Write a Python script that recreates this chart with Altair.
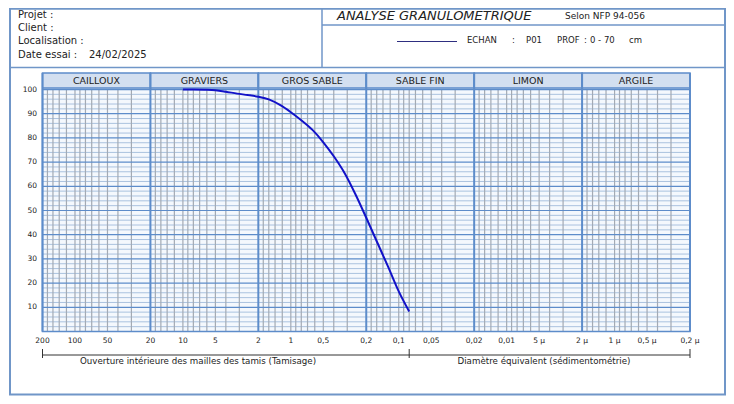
import altair as alt
import pandas as pd

# ---------------- data ----------------
sieve_mm = [10, 8, 6.3, 5, 4, 3.15, 2.5, 2, 1.6, 1.25, 1, 0.8, 0.63, 0.5, 0.4,
            0.315, 0.25, 0.2, 0.16, 0.125, 0.1, 0.08]
passing = [100, 100, 99.9, 99.7, 99.1, 98.3, 97.7, 97.0, 95.9, 93.5, 90.6, 87.3,
           83.3, 78.2, 72.4, 65.2, 56.4, 47.0, 37.3, 26.6, 16.6, 8.3]

classes = ["CAILLOUX", "GRAVIERS", "GROS SABLE", "SABLE FIN", "LIMON", "ARGILE"]
class_bounds = [200, 20, 2, 0.2, 0.02, 0.002, 0.0002]

tick_values = [200, 100, 50, 20, 10, 5, 2, 1, 0.5, 0.2, 0.1, 0.05, 0.02, 0.01,
               0.005, 0.002, 0.001, 0.0005, 0.0002]
tick_labels = ["200", "100", "50", "20", "10", "5", "2", "1", "0,5", "0,2", "0,1",
               "0,05", "0,02", "0,01", "5 µ", "2 µ", "1 µ", "0,5 µ", "0,2 µ"]
y_ticks = [10, 20, 30, 40, 50, 60, 70, 80, 90, 100]
bracket_marks = [200, 0.08, 0.0002]
grid_mult = [1, 1.2, 1.4, 1.6, 1.8, 3, 4, 5, 6, 7, 8, 9]

info_labels = ["Projet :", "Client :", "Localisation :", "Date essai :"]
date_text = "24/02/2025"
title_text = "ANALYSE GRANULOMETRIQUE"
norm_text = "Selon NFP 94-056"
sample_parts = ["ECHAN", ":", "P01", "PROF", ":", "0 - 70", "cm"]
sieve_caption = "Ouverture intérieure des mailles des tamis (Tamisage)"
sedi_caption = "Diamètre équivalent (sédimentométrie)"

# ---------------- styling ----------------
FONT = "DejaVu Sans"
FRAME = "#7096c8"
BLUE_MAJ = "#5d8cca"
BLUE_MIN = "#aac2df"
GRAY_MIN = "#a3aab4"
CURVE = "#1212c8"
TXT = "#222222"

W, H = 718, 388
xs = alt.Scale(type="log", domain=[0.0002, 200], range=[682, 34.5], nice=False)
ys = alt.Scale(domain=[0, 100], range=[323.5, 81.5], nice=False, zero=False)


def X(f):
    return alt.X(f, type="quantitative", scale=xs, axis=None)


def Y(f):
    return alt.Y(f, type="quantitative", scale=ys, axis=None)


one = pd.DataFrame({"a": [0]})
layers = []

# plot background
bg = alt.Chart(pd.DataFrame({"x1": [0.0002], "x2": [200], "y1": [0], "y2": [100]})).mark_rect(
    fill="#f4f8fd").encode(x=X("x1"), x2="x2", y=Y("y1"), y2="y2")
layers.append(bg)

# horizontal grid
hmin = [v for v in range(2, 100, 2) if v % 10 != 0]
hmaj = [v for v in range(10, 100, 10)]
layers.append(alt.Chart(pd.DataFrame({"y": hmin, "x1": 0.0002, "x2": 200})).mark_rule(
    color=BLUE_MIN, strokeWidth=1).encode(x=X("x1"), x2="x2", y=Y("y")))

# vertical minor grid
vvals = []
for n in range(-4, 3):
    for k in grid_mult:
        v = round(k * 10 ** n, 7)
        if 0.0002 < v < 200:
            vvals.append(v)
layers.append(alt.Chart(pd.DataFrame({"x": vvals, "y1": 0, "y2": 100})).mark_rule(
    color=GRAY_MIN, strokeWidth=1.2).encode(x=X("x"), y=Y("y1"), y2="y2"))

layers.append(alt.Chart(pd.DataFrame({"y": hmaj, "x1": 0.0002, "x2": 200})).mark_rule(
    color=BLUE_MAJ, strokeWidth=1.2).encode(x=X("x1"), x2="x2", y=Y("y")))

# header band
hdr = pd.DataFrame({
    "name": classes,
    "x1": class_bounds[:-1],
    "x2": class_bounds[1:],
    "xm": [(a * b) ** 0.5 for a, b in zip(class_bounds[:-1], class_bounds[1:])],
})
layers.append(alt.Chart(hdr).mark_rect(fill="#d3dff0", stroke=BLUE_MAJ, strokeWidth=1.5).encode(
    x=X("x1"), x2="x2", y=alt.value(65), y2=alt.value(80)))
layers.append(alt.Chart(hdr).mark_text(font=FONT, fontSize=9.5, color=TXT, baseline="middle").encode(
    x=X("xm"), y=alt.value(73), text="name:N"))

# major vertical lines (class bounds)
layers.append(alt.Chart(pd.DataFrame({"x": class_bounds})).mark_rule(
    color=BLUE_MAJ, strokeWidth=2).encode(x=X("x"), y=alt.value(65), y2=alt.value(323.5)))

# plot border
layers.append(alt.Chart(pd.DataFrame({"x1": [0.0002], "x2": [200], "y1": [0], "y2": [100]})).mark_rect(
    fillOpacity=0, stroke=BLUE_MAJ, strokeWidth=1.5).encode(x=X("x1"), x2="x2", y=Y("y1"), y2="y2"))

# curve
layers.append(alt.Chart(pd.DataFrame({"d": sieve_mm, "p": passing})).mark_line(
    color=CURVE, strokeWidth=2, interpolate="monotone").encode(x=X("d"), y=Y("p")))

# y labels
layers.append(alt.Chart(pd.DataFrame({"v": y_ticks})).mark_text(
    font=FONT, fontSize=7.5, color=TXT, align="right", baseline="middle").encode(
    x=alt.value(29), y=Y("v"), text="v:N"))

# x labels
layers.append(alt.Chart(pd.DataFrame({"v": tick_values, "t": tick_labels})).mark_text(
    font=FONT, fontSize=7.5, color=TXT, align="center", baseline="middle").encode(
    x=X("v"), y=alt.value(333), text="t:N"))

# bracket
layers.append(alt.Chart(pd.DataFrame({"x1": [200], "x2": [0.0002]})).mark_rule(
    color="#333333", strokeWidth=1).encode(x=X("x1"), x2="x2", y=alt.value(347)))
layers.append(alt.Chart(pd.DataFrame({"x": bracket_marks})).mark_rule(
    color="#333333", strokeWidth=1).encode(x=X("x"), y=alt.value(341), y2=alt.value(350)))
layers.append(alt.Chart(one).mark_text(font=FONT, fontSize=8.7, color=TXT, align="center",
                                       text=sieve_caption).encode(x=alt.value(190), y=alt.value(356)))
layers.append(alt.Chart(one).mark_text(font=FONT, fontSize=8.7, color=TXT, align="center",
                                       text=sedi_caption).encode(x=alt.value(536), y=alt.value(356)))

# frame
frame_rules = [
    (2, 717, 59.5, 59.5),
    (314, 314, 0.75, 59.5),
    (314, 717, 17, 17),
]
for x1, x2, y1, y2 in frame_rules:
    layers.append(alt.Chart(one).mark_rule(color=FRAME, strokeWidth=1.5).encode(
        x=alt.value(x1), x2=alt.value(x2), y=alt.value(y1), y2=alt.value(y2)))
layers.append(alt.Chart(one).mark_rect(fillOpacity=0, stroke=FRAME, strokeWidth=2).encode(
    x=alt.value(2), x2=alt.value(717), y=alt.value(0.75), y2=alt.value(386.5)))

# info texts
info_y = [9.5, 22.5, 36, 50]
for lab, yy in zip(info_labels, info_y):
    layers.append(alt.Chart(one).mark_text(font=FONT, fontSize=10, color=TXT, align="left",
                                           text=lab).encode(x=alt.value(10), y=alt.value(yy)))
layers.append(alt.Chart(one).mark_text(font=FONT, fontSize=10, color=TXT, align="left",
                                       text=date_text).encode(x=alt.value(81), y=alt.value(50)))
layers.append(alt.Chart(one).mark_text(font=FONT, fontSize=13, fontStyle="italic", color=TXT,
                                       align="left", text=title_text).encode(
    x=alt.value(329), y=alt.value(11.5)))
layers.append(alt.Chart(one).mark_text(font=FONT, fontSize=9, color=TXT, align="left",
                                       text=norm_text).encode(x=alt.value(557), y=alt.value(10.5)))
layers.append(alt.Chart(one).mark_rule(color="#2e2e80", strokeWidth=1.2).encode(
    x=alt.value(389), x2=alt.value(449), y=alt.value(33.5)))
sample_x = [459, 504, 518, 549, 576, 582, 621]
for t, xx in zip(sample_parts, sample_x):
    layers.append(alt.Chart(one).mark_text(font=FONT, fontSize=8.5, color=TXT, align="left",
                                           text=t).encode(x=alt.value(xx), y=alt.value(34.5)))

chart = alt.layer(*layers).properties(
    width=W, height=H, autosize=alt.AutoSizeParams(type="none"), padding=0,
    background="#ffffff",
).configure_view(strokeWidth=0).configure_text(baseline="alphabetic")

chart.save("out.html", embed_options={"renderer": "svg", "actions": False})
